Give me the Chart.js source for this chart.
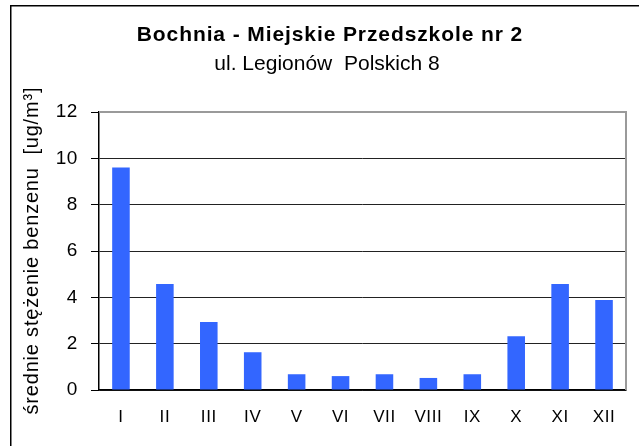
<!DOCTYPE html>
<html>
<head>
<meta charset="utf-8">
<script src="https://cdn.jsdelivr.net/npm/chart.js@4/dist/chart.umd.min.js"></script>
<style>
  html, body { margin: 0; padding: 0; background: #ffffff; }
  #wrap { width: 639px; height: 446px; position: relative; }
</style>
</head>
<body>
<div id="wrap"><canvas id="c" width="639" height="446"></canvas></div>
<script>
// ---- data ----
const months = ['I', 'II', 'III', 'IV', 'V', 'VI', 'VII', 'VIII', 'IX', 'X', 'XI', 'XII'];
const benzene = [9.6, 4.58, 2.93, 1.63, 0.68, 0.6, 0.68, 0.52, 0.68, 2.32, 4.58, 3.88];
const yTickValues = [0, 2, 4, 6, 8, 10, 12];
const titleText = 'Bochnia - Miejskie Przedszkole nr 2';
const subtitleText = 'ul. Legionów  Polskich 8';
const yAxisTitle = 'średnie stężenie benzenu  [ug/m³]';

const FONT = "'Liberation Sans', Arial, Helvetica, sans-serif";

function drawText(ctx, text, x, y, font, spacing, rotate) {
  ctx.save();
  ctx.font = font;
  ctx.fillStyle = '#000000';
  ctx.textAlign = 'center';
  ctx.textBaseline = 'alphabetic';
  if ('letterSpacing' in ctx) ctx.letterSpacing = spacing + 'px';
  ctx.translate(x, y);
  if (rotate) ctx.rotate(rotate);
  ctx.fillText(text, spacing / 2, 0);
  ctx.restore();
}

const framePlugin = {
  id: 'frame',
  beforeDraw(chart) {
    const ctx = chart.ctx;
    ctx.save();
    ctx.fillStyle = '#ffffff';
    ctx.fillRect(0, 0, chart.width, chart.height);
    ctx.strokeStyle = '#000000';
    ctx.lineWidth = 1.5;
    ctx.beginPath();
    ctx.moveTo(10.75, chart.height + 2);
    ctx.lineTo(10.75, 5.75);
    ctx.lineTo(chart.width + 2, 5.75);
    ctx.stroke();
    ctx.restore();
    if ('letterSpacing' in ctx) ctx.letterSpacing = '0.6px';
  },
  afterDatasetsDraw(chart) {
    const a = chart.chartArea;
    const ctx = chart.ctx;
    ctx.save();
    ctx.strokeStyle = '#9a9a9a';
    ctx.lineWidth = 2;
    ctx.beginPath();
    ctx.moveTo(a.left, a.top);
    ctx.lineTo(a.right, a.top);
    ctx.lineTo(a.right, a.bottom);
    ctx.stroke();
    ctx.restore();
  },
  afterDraw(chart) {
    const ctx = chart.ctx;
    const a = chart.chartArea;
    drawText(ctx, titleText, 329.5, 41, 'bold 21px ' + FONT, 0.9, 0);
    drawText(ctx, subtitleText, 327, 70, 'normal 21px ' + FONT, 0, 0);
    drawText(ctx, yAxisTitle, 38, (a.top + a.bottom) / 2, 'normal 20px ' + FONT, 0.8, -Math.PI / 2);
  }
};

new Chart(document.getElementById('c'), {
  type: 'bar',
  data: {
    labels: months,
    datasets: [{
      data: benzene,
      backgroundColor: '#3366FF',
      borderWidth: 0,
      barPercentage: 0.4,
      categoryPercentage: 1.0
    }]
  },
  options: {
    responsive: false,
    animation: false,
    devicePixelRatio: 1,
    layout: { padding: { left: 0, right: 13, top: 112, bottom: 0 } },
    plugins: {
      legend: { display: false },
      tooltip: { enabled: false },
      title: { display: false },
      subtitle: { display: false }
    },
    scales: {
      x: {
        type: 'category',
        grid: { display: false, drawTicks: false },
        border: { display: true, color: '#000000', width: 1.5 },
        ticks: {
          color: '#000000',
          font: { family: FONT, size: 17 },
          padding: 17,
          maxRotation: 0,
          autoSkip: false
        },
        afterFit(scale) { scale.height = 56; }
      },
      y: {
        min: 0,
        max: 12,
        afterBuildTicks(scale) { scale.ticks = yTickValues.map(v => ({ value: v })); },
        grid: {
          color: '#222222',
          lineWidth: 1,
          drawTicks: true,
          tickLength: 8,
          tickColor: '#000000'
        },
        border: { display: true, color: '#000000', width: 1.5 },
        ticks: {
          color: '#000000',
          font: { family: FONT, size: 19 },
          padding: 13
        },
        title: { display: false },
        afterFit(scale) { scale.width = 99; }
      }
    }
  },
  plugins: [framePlugin]
});
</script>
</body>
</html>
